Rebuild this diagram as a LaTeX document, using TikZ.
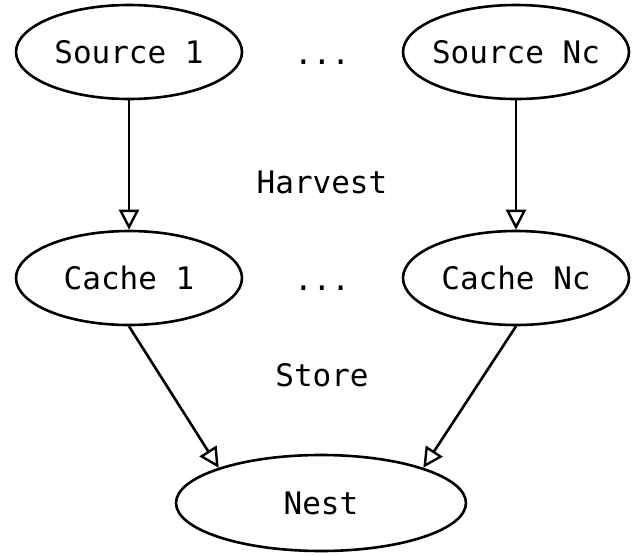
\documentclass[tikz,border=0pt]{standalone}
\usepackage{fontspec}
\setmonofont{DejaVu Sans Mono}
\usetikzlibrary{arrows.meta, shapes.geometric}
\tikzset{
  stage/.style={draw, ellipse, line width=2.6pt, inner xsep=-12pt, inner ysep=0pt,
    minimum width=226pt, minimum height=94pt},
  flow/.style={line width=2.6pt, -{Triangle[open, length=20pt, width=20pt, line width=2.4pt]}},
  note/.style={inner sep=0pt}
}
\begin{document}
\begin{tikzpicture}[x=1pt, y=-1pt, font=\fontsize{31}{37}\selectfont\ttfamily]
\useasboundingbox (0,0) rectangle (641,557);
% sources
\node[stage] (src1) at (129,52) {Source 1};
\node[stage] (srcN) at (516,52) {Source Nc};
\node[note, anchor=base] (dots1) at (322,64) {...};
% caches
\node[stage] (cache1) at (129,278) {Cache 1};
\node[stage] (cacheN) at (516,278) {Cache Nc};
\node[note, anchor=base] (dots2) at (322,290) {...};
% nest
\node[stage, minimum width=290pt, minimum height=96pt] (nest) at (321,503) {Nest};
\node[note] (harvest) at (322,182) {Harvest};
\node[note] (store) at (322,375) {Store};
\draw[flow] (src1) -- (cache1);
\draw[flow] (srcN) -- (cacheN);
\draw[flow] (cache1.south) -- (nest.161);
\draw[flow] (cacheN.south) -- (nest.19);
\end{tikzpicture}
\end{document}
